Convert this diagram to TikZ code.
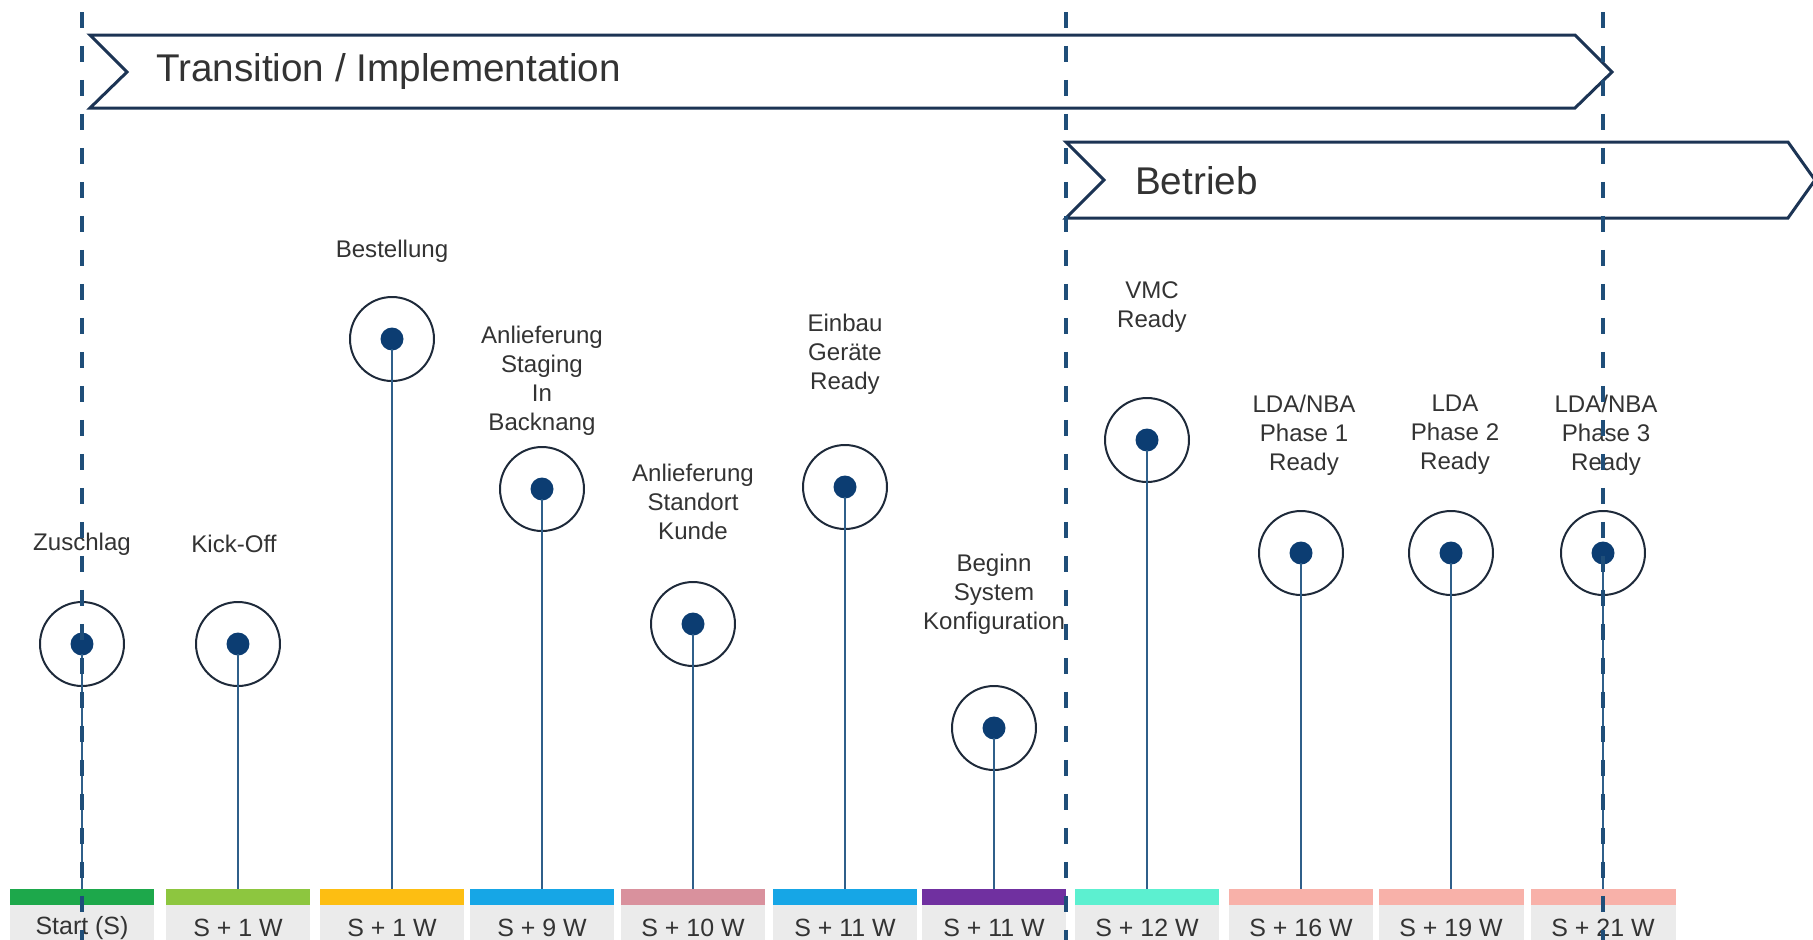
\documentclass[tikz,border=0pt]{standalone}
\usepackage{fontspec}
\setmainfont{Liberation Sans}
\usepackage{tikz}
\definecolor{bannercol}{HTML}{1C3454}
\definecolor{phasecol}{HTML}{1F4E79}
\definecolor{ringcol}{HTML}{1E2A3A}
\definecolor{dotcol}{HTML}{0C3D72}
\definecolor{stemcol}{HTML}{2F5F8A}
\definecolor{txtcol}{HTML}{333333}
\definecolor{graybg}{HTML}{EBEBEB}
\definecolor{cgreen}{HTML}{1DA84B}
\definecolor{clime}{HTML}{8DC63F}
\definecolor{cyellow}{HTML}{FDBE12}
\definecolor{cblue}{HTML}{16A6E6}
\definecolor{cpink}{HTML}{D9919D}
\definecolor{cpurple}{HTML}{7030A0}
\definecolor{caqua}{HTML}{5CF0D0}
\definecolor{csalmon}{HTML}{F8B1A9}

\begin{document}
\begin{tikzpicture}[x=0.02cm, y=-0.02cm,
    banner/.style={draw=bannercol, line width=0.06cm, fill=white, line join=miter},
    phase/.style={draw=phasecol, line width=0.07cm, dash pattern=on 0.32cm off 0.36cm},
    ring/.style={circle, draw=ringcol, line width=0.04cm, minimum size=1.68cm, inner sep=0pt,
        path picture={\fill[dotcol] (path picture bounding box.center) circle (0.23cm);}},
    stem/.style={draw=stemcol, line width=0.04cm},
    lbl/.style={align=center, text=txtcol, font=\fontsize{13.7pt}{16.5pt}\selectfont},
    bar/.style={minimum width=2.9cm, minimum height=0.32cm, inner sep=0pt},
    datebox/.style={fill=graybg, minimum width=2.9cm, minimum height=0.92cm, inner sep=0pt,
        text=txtcol, font=\fontsize{14.2pt}{16pt}\selectfont}]
    \useasboundingbox (0,0) rectangle (1813,940);

    % date boxes and coloured bars
    \node[datebox] (d1) at (82,928) {Start (S)};
    \node[datebox] (d2) at (238,928) {S + 1 W};
    \node[datebox] (d3) at (392,928) {S + 1 W};
    \node[datebox] (d4) at (542,928) {S + 9 W};
    \node[datebox] (d5) at (693,928) {S + 10 W};
    \node[datebox] (d6) at (845,928) {S + 11 W};
    \node[datebox] (d7) at (994,928) {S + 11 W};
    \node[datebox] (d8) at (1147,928) {S + 12 W};
    \node[datebox] (d9) at (1301,928) {S + 16 W};
    \node[datebox] (d10) at (1451,928) {S + 19 W};
    \node[datebox] (d11) at (1603,928) {S + 21 W};
    \node[bar, fill=cgreen] (b1) at (82,897) {};
    \node[bar, fill=clime] (b2) at (238,897) {};
    \node[bar, fill=cyellow] (b3) at (392,897) {};
    \node[bar, fill=cblue] (b4) at (542,897) {};
    \node[bar, fill=cpink] (b5) at (693,897) {};
    \node[bar, fill=cblue] (b6) at (845,897) {};
    \node[bar, fill=cpurple] (b7) at (994,897) {};
    \node[bar, fill=caqua] (b8) at (1147,897) {};
    \node[bar, fill=csalmon] (b9) at (1301,897) {};
    \node[bar, fill=csalmon] (b10) at (1451,897) {};
    \node[bar, fill=csalmon] (b11) at (1603,897) {};

    % milestones
    \node[ring] (m1) at (82,644) {};
    \node[ring] (m2) at (238,644) {};
    \node[ring] (m3) at (392,339) {};
    \node[ring] (m4) at (542,489) {};
    \node[ring] (m5) at (693,624) {};
    \node[ring] (m6) at (845,487) {};
    \node[ring] (m7) at (994,728) {};
    \node[ring] (m8) at (1147,440) {};
    \node[ring] (m9) at (1301,553) {};
    \node[ring] (m10) at (1451,553) {};
    \node[ring] (m11) at (1603,553) {};
    \draw[stem] ([yshift=-0.2cm]m1.center) -- (b1.north);
    \draw[stem] ([yshift=-0.2cm]m2.center) -- (b2.north);
    \draw[stem] ([yshift=-0.2cm]m3.center) -- (b3.north);
    \draw[stem] ([yshift=-0.2cm]m4.center) -- (b4.north);
    \draw[stem] ([yshift=-0.2cm]m5.center) -- (b5.north);
    \draw[stem] ([yshift=-0.2cm]m6.center) -- (b6.north);
    \draw[stem] ([yshift=-0.2cm]m7.center) -- (b7.north);
    \draw[stem] ([yshift=-0.2cm]m8.center) -- (b8.north);
    \draw[stem] ([yshift=-0.2cm]m9.center) -- (b9.north);
    \draw[stem] ([yshift=-0.2cm]m10.center) -- (b10.north);
    \draw[stem] ([yshift=-0.2cm]m11.center) -- (b11.north);
    \node[lbl] (l1) at (82,544) {Zuschlag};
    \node[lbl] (l2) at (234,544) {Kick-Off};
    \node[lbl] (l3) at (392,251) {Bestellung};
    \node[lbl] (l4) at (542,381) {Anlieferung\\Staging\\In\\Backnang};
    \node[lbl] (l5) at (693,502) {Anlieferung\\Standort\\Kunde};
    \node[lbl] (l6) at (845,354) {Einbau\\Geräte\\Ready};
    \node[lbl] (l7) at (994,594) {Beginn\\System\\Konfiguration};
    \node[lbl] (l8) at (1152,307) {VMC\\Ready};
    \node[lbl] (l9) at (1304,435) {LDA/NBA\\Phase 1\\Ready};
    \node[lbl] (l10) at (1455,435) {LDA\\Phase 2\\Ready};
    \node[lbl] (l11) at (1606,435) {LDA/NBA\\Phase 3\\Ready};

    % phase banners
    \draw[banner] (90,35) -- (1575,35) -- (1612,72) -- (1575,108) -- (90,108) -- (127,72) -- cycle;
    \draw[banner] (1066,142) -- (1788,142) -- (1815,180) -- (1788,218) -- (1066,218) -- (1104,180) -- cycle;
    \node[anchor=west, text=txtcol, font=\fontsize{22pt}{26pt}\selectfont] (t1) at (150,72) {Transition / Implementation};
    \node[anchor=west, text=txtcol, font=\fontsize{22pt}{26pt}\selectfont] (t2) at (1129,181) {Betrieb};

    % phase borders
    \draw[phase] (82,12) -- (82,940);
    \draw[phase] (1066,12) -- (1066,940);
    \draw[phase] (1603,12) -- (1603,940);
\end{tikzpicture}
\end{document}
